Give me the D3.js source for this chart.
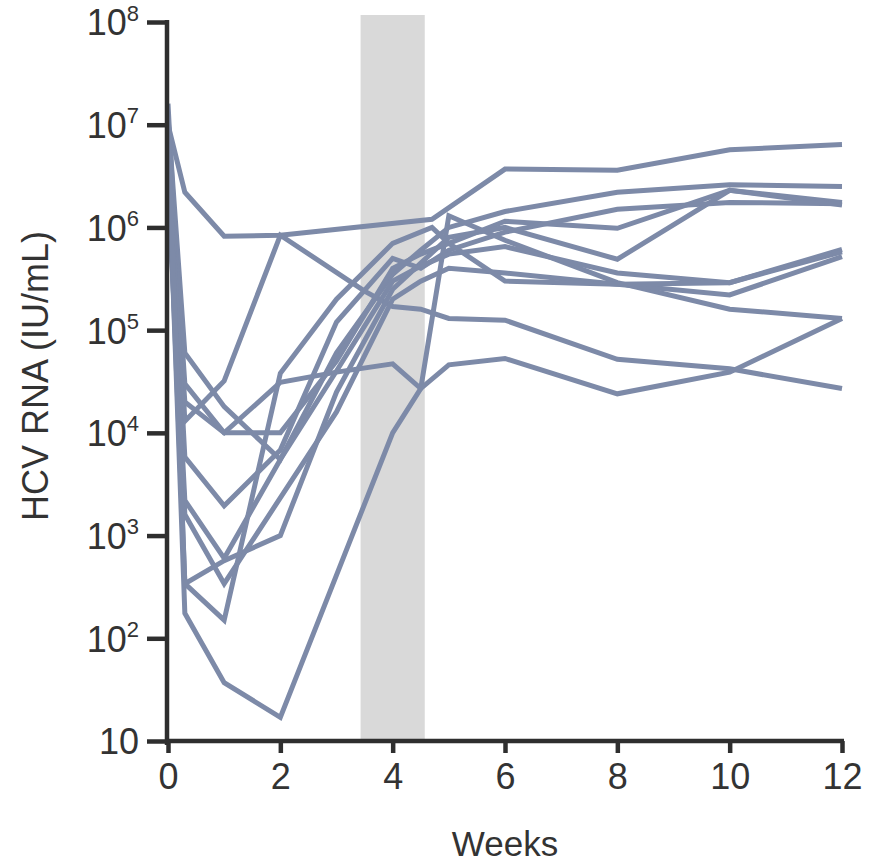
<!DOCTYPE html>
<html>
<head>
<meta charset="utf-8">
<script src="https://cdn.jsdelivr.net/npm/d3@7"></script>
<style>
  html, body { margin: 0; padding: 0; background: #fff; }
  svg { display: block; }
  text { font-family: "Liberation Sans", Arial, sans-serif; fill: #333; }
</style>
</head>
<body>
<svg id="chart" width="877" height="865"></svg>
<script>
// Sampling times (weeks) shared by all patients; null = no sample at that time
const weeks = [0, 0.3, 1, 2, 3, 3.5, 4, 4.5, 4.7, 5, 6, 8, 10, 12];

// HCV RNA (IU/mL) per patient
const patient1  = [1.0e7, 2.2e6, 8.2e5, 8.4e5, null, null, null, null, 1.2e6, null, 3.7e6, 3.6e6, 5.7e6, 6.4e6];
const patient2  = [1.6e7, 1.3e4, 3.2e4, 8.4e5, null, 2.4e5, 1.7e5, 1.6e5, null, 1.3e5, 1.25e5, 5.2e4, 4.2e4, 2.7e4];
const patient3  = [6.0e6, 175, 37, 17, null, null, 1.0e4, 2.7e4, null, 1.3e6, 7.5e5, 2.9e5, 1.6e5, 1.3e5];
const patient4  = [4.0e6, 2.0e4, 1.0e4, 3.1e4, 3.9e4, null, 4.7e4, 2.7e4, null, 4.6e4, 5.3e4, 2.4e4, 3.9e4, 1.3e5];
const patient5  = [1.2e7, 6.0e4, 1.8e4, 5.5e3, 6.0e4, null, 3.5e5, 6.0e5, null, 1.0e6, 1.43e6, 2.2e6, 2.6e6, 2.5e6];
const patient6  = [8.0e6, 3.0e4, 1.0e4, 1.0e4, 5.0e4, null, 4.0e5, 5.5e5, null, 7.0e5, 1.15e6, 9.8e5, 2.3e6, 1.75e6];
const patient7  = [5.0e6, 340, 570, 1.0e3, 2.5e4, null, 2.5e5, 4.5e5, null, 8.0e5, 1.0e6, 4.9e5, 2.3e6, 1.65e6];
const patient8  = [7.0e6, 5.8e3, 1.95e3, 6.8e3, 1.2e5, null, 5.0e5, 4.0e5, null, 6.0e5, 9.0e5, 1.5e6, 1.75e6, 1.7e6];
const patient9  = [3.0e6, 2.2e3, 600, 5.5e3, 4.0e4, null, 3.0e5, 4.2e5, null, 5.5e5, 6.5e5, 3.6e5, 2.9e5, 6.1e5];
const patient10 = [2.5e6, 1.6e3, 340, null, 1.6e4, null, 2.0e5, 3.0e5, null, 4.0e5, 3.6e5, 2.8e5, 2.2e5, 5.2e5];
const patient11 = [9.0e6, 340, 150, 3.8e4, 2.0e5, null, 7.0e5, null, 1.0e6, 7.0e5, 3.0e5, 2.8e5, 2.9e5, 5.8e5];

const patients = [patient1, patient2, patient3, patient4, patient5, patient6,
                  patient7, patient8, patient9, patient10, patient11];

// Treatment window (weeks)
const windowStart = 24 / 7;
const windowEnd = 32 / 7;

const yTicks = [1e1, 1e2, 1e3, 1e4, 1e5, 1e6, 1e7, 1e8];
const xTicks = [0, 2, 4, 6, 8, 10, 12];

const svg = d3.select("#chart");

const x = d3.scaleLinear().domain([0, 12]).range([168, 842]);
const y = d3.scaleLog().domain([10, 1e8]).range([741, 22]);

// shaded window
svg.append("rect")
  .attr("x", x(windowStart))
  .attr("y", 15)
  .attr("width", x(windowEnd) - x(windowStart))
  .attr("height", y(10) - 15)
  .attr("fill", "#d9d9d9");

// patient trajectories
const line = d3.line()
  .x(d => x(d[0]))
  .y(d => y(d[1]));

svg.append("g")
  .selectAll("path")
  .data(patients.map(vals => weeks.map((w, i) => [w, vals[i]]).filter(d => d[1] != null)))
  .join("path")
  .attr("d", line)
  .attr("fill", "none")
  .attr("stroke", "#7d8aa8")
  .attr("stroke-width", 5)
  .attr("stroke-linejoin", "miter")
  .attr("stroke-linecap", "butt");

// axes
const axisColor = "#2e2e2e";

const yAxis = svg.append("g")
  .attr("transform", `translate(${x(0) - 1},0)`)
  .call(d3.axisLeft(y).tickValues(yTicks).tickSize(20).tickSizeOuter(0).tickPadding(8)
    .tickFormat(() => "10"));
yAxis.select(".domain").attr("stroke", axisColor).attr("stroke-width", 4.5)
  .attr("d", `M0,${y(1e8) - 2}V${y(10) + 4}`);
yAxis.selectAll(".tick line").attr("stroke", axisColor).attr("stroke-width", 4.5);
yAxis.selectAll(".tick text")
  .attr("font-size", 36)
  .attr("fill", "#333")
  .attr("dy", "0.36em")
  .each(function(d) {
    const e = Math.round(Math.log10(d));
    const t = d3.select(this);
    if (e > 1) {
      t.append("tspan").attr("font-size", 22).attr("dy", "-0.68em").text(e);
    }
  });

const xAxis = svg.append("g")
  .attr("transform", `translate(0,${y(10)})`)
  .call(d3.axisBottom(x).tickValues(xTicks).tickSize(12).tickSizeOuter(0).tickPadding(10)
    .tickFormat(d3.format("d")));
xAxis.select(".domain").attr("stroke", axisColor).attr("stroke-width", 4.5)
  .attr("d", `M${x(0) - 3},0H${x(12) + 2}`);
xAxis.selectAll(".tick line").attr("stroke", axisColor).attr("stroke-width", 4.5);
xAxis.selectAll(".tick text").attr("font-size", 36).attr("fill", "#333");

// axis titles
svg.append("text")
  .attr("x", x(6))
  .attr("y", 856)
  .attr("text-anchor", "middle")
  .attr("font-size", 35)
  .text("Weeks");

svg.append("text")
  .attr("transform", `translate(48,376) rotate(-90)`)
  .attr("text-anchor", "middle")
  .attr("font-size", 36)
  .text("HCV RNA (IU/mL)");
</script>
</body>
</html>
